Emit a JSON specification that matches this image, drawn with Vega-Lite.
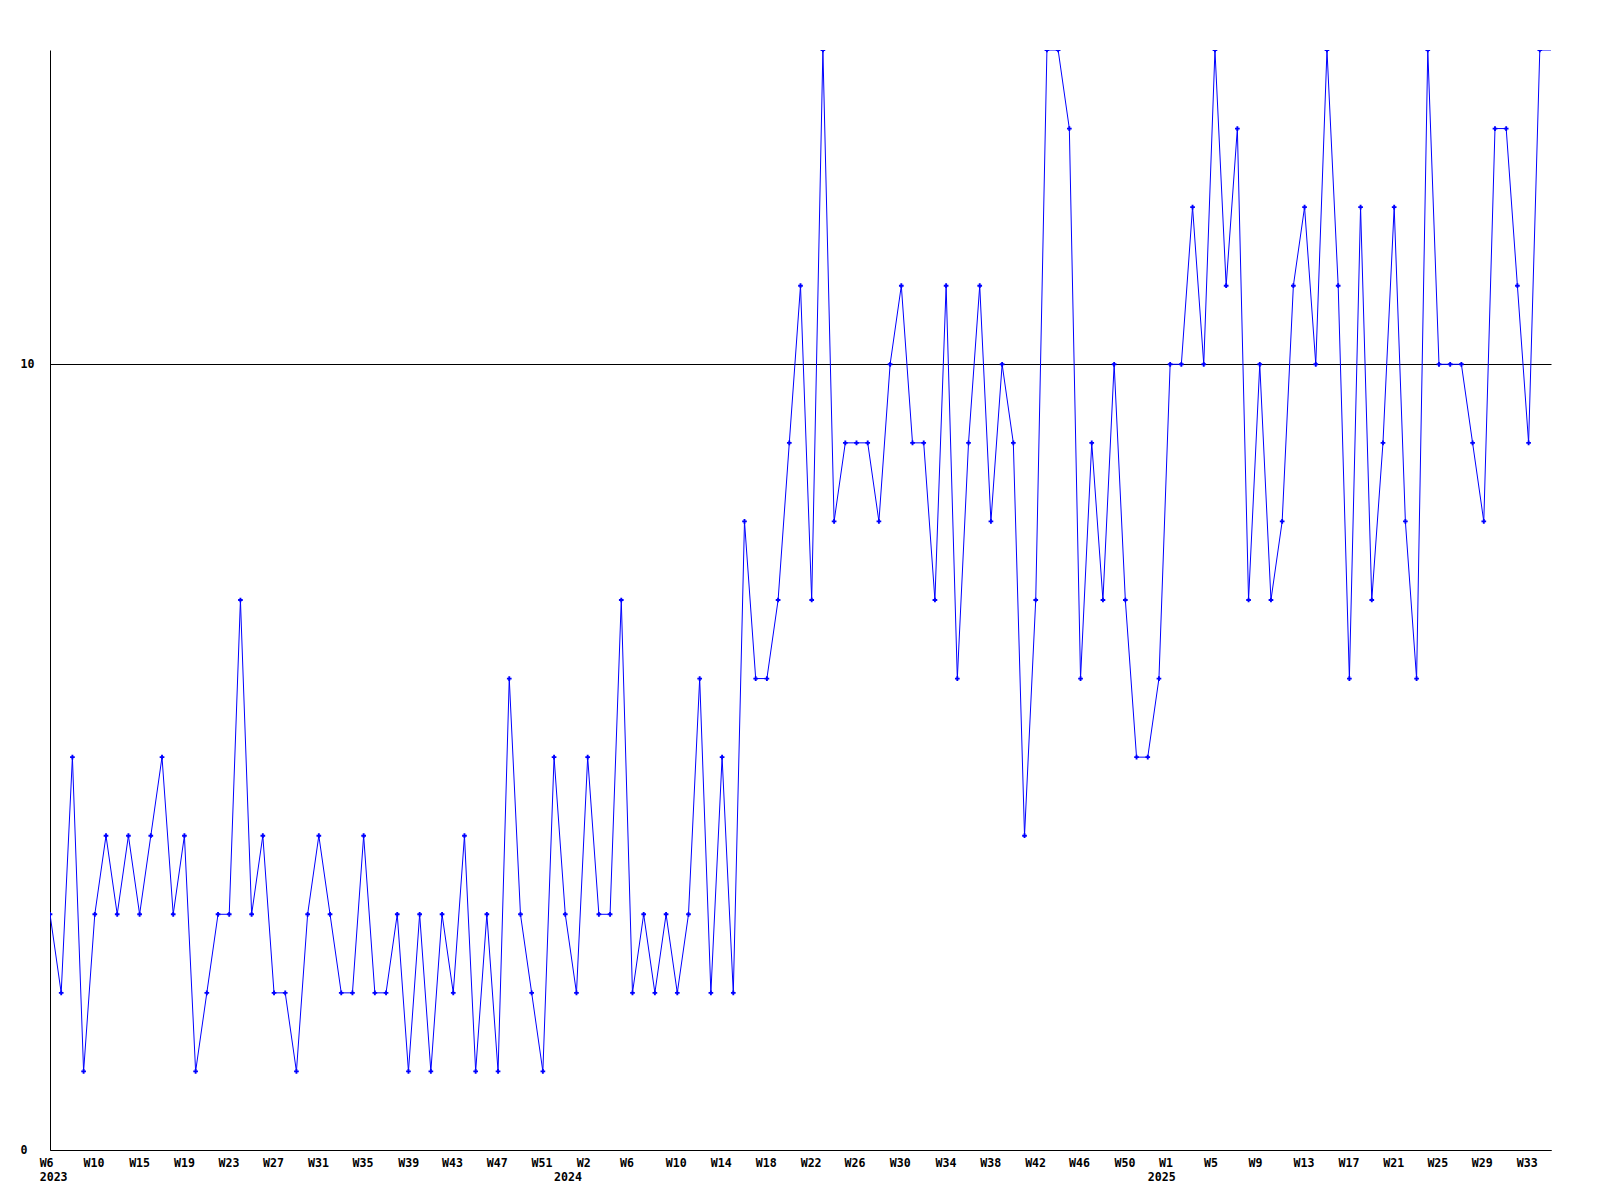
{
  "$schema": "https://vega.github.io/schema/vega-lite/v6.json",
  "width": 1501,
  "height": 1100,
  "autosize": {"type": "none"},
  "padding": {"left": 50, "top": 50, "right": 49, "bottom": 50},
  "background": "white",
  "config": {
    "view": {"stroke": null},
    "axis": {
      "labelFont": "DejaVu Sans Mono",
      "labelFontWeight": "bold",
      "labelFontSize": 11.6,
      "labelColor": "black",
      "domainColor": "black",
      "domainWidth": 1,
      "ticks": false,
      "tickSize": 0,
      "title": null,
      "labelOverlap": false,
      "labelFlush": false,
      "labelBound": false
    }
  },
  "data": {
    "values": [
      {"week": "2023-W06", "idx": 0, "count": 3},
      {"week": "2023-W07", "idx": 1, "count": 2},
      {"week": "2023-W08", "idx": 2, "count": 5},
      {"week": "2023-W09", "idx": 3, "count": 1},
      {"week": "2023-W10", "idx": 4, "count": 3},
      {"week": "2023-W11", "idx": 5, "count": 4},
      {"week": "2023-W12", "idx": 6, "count": 3},
      {"week": "2023-W13", "idx": 7, "count": 4},
      {"week": "2023-W14", "idx": 8, "count": 3},
      {"week": "2023-W15", "idx": 9, "count": 4},
      {"week": "2023-W16", "idx": 10, "count": 5},
      {"week": "2023-W17", "idx": 11, "count": 3},
      {"week": "2023-W18", "idx": 12, "count": 4},
      {"week": "2023-W19", "idx": 13, "count": 1},
      {"week": "2023-W20", "idx": 14, "count": 2},
      {"week": "2023-W21", "idx": 15, "count": 3},
      {"week": "2023-W22", "idx": 16, "count": 3},
      {"week": "2023-W23", "idx": 17, "count": 7},
      {"week": "2023-W24", "idx": 18, "count": 3},
      {"week": "2023-W25", "idx": 19, "count": 4},
      {"week": "2023-W26", "idx": 20, "count": 2},
      {"week": "2023-W27", "idx": 21, "count": 2},
      {"week": "2023-W28", "idx": 22, "count": 1},
      {"week": "2023-W29", "idx": 23, "count": 3},
      {"week": "2023-W30", "idx": 24, "count": 4},
      {"week": "2023-W31", "idx": 25, "count": 3},
      {"week": "2023-W32", "idx": 26, "count": 2},
      {"week": "2023-W33", "idx": 27, "count": 2},
      {"week": "2023-W34", "idx": 28, "count": 4},
      {"week": "2023-W35", "idx": 29, "count": 2},
      {"week": "2023-W36", "idx": 30, "count": 2},
      {"week": "2023-W37", "idx": 31, "count": 3},
      {"week": "2023-W38", "idx": 32, "count": 1},
      {"week": "2023-W39", "idx": 33, "count": 3},
      {"week": "2023-W40", "idx": 34, "count": 1},
      {"week": "2023-W41", "idx": 35, "count": 3},
      {"week": "2023-W42", "idx": 36, "count": 2},
      {"week": "2023-W43", "idx": 37, "count": 4},
      {"week": "2023-W44", "idx": 38, "count": 1},
      {"week": "2023-W45", "idx": 39, "count": 3},
      {"week": "2023-W46", "idx": 40, "count": 1},
      {"week": "2023-W47", "idx": 41, "count": 6},
      {"week": "2023-W48", "idx": 42, "count": 3},
      {"week": "2023-W49", "idx": 43, "count": 2},
      {"week": "2023-W50", "idx": 44, "count": 1},
      {"week": "2023-W51", "idx": 45, "count": 5},
      {"week": "2023-W52", "idx": 46, "count": 3},
      {"week": "2024-W01", "idx": 47, "count": 2},
      {"week": "2024-W02", "idx": 48, "count": 5},
      {"week": "2024-W03", "idx": 49, "count": 3},
      {"week": "2024-W04", "idx": 50, "count": 3},
      {"week": "2024-W05", "idx": 51, "count": 7},
      {"week": "2024-W06", "idx": 52, "count": 2},
      {"week": "2024-W07", "idx": 53, "count": 3},
      {"week": "2024-W08", "idx": 54, "count": 2},
      {"week": "2024-W09", "idx": 55, "count": 3},
      {"week": "2024-W10", "idx": 56, "count": 2},
      {"week": "2024-W11", "idx": 57, "count": 3},
      {"week": "2024-W12", "idx": 58, "count": 6},
      {"week": "2024-W13", "idx": 59, "count": 2},
      {"week": "2024-W14", "idx": 60, "count": 5},
      {"week": "2024-W15", "idx": 61, "count": 2},
      {"week": "2024-W16", "idx": 62, "count": 8},
      {"week": "2024-W17", "idx": 63, "count": 6},
      {"week": "2024-W18", "idx": 64, "count": 6},
      {"week": "2024-W19", "idx": 65, "count": 7},
      {"week": "2024-W20", "idx": 66, "count": 9},
      {"week": "2024-W21", "idx": 67, "count": 11},
      {"week": "2024-W22", "idx": 68, "count": 7},
      {"week": "2024-W23", "idx": 69, "count": 14},
      {"week": "2024-W24", "idx": 70, "count": 8},
      {"week": "2024-W25", "idx": 71, "count": 9},
      {"week": "2024-W26", "idx": 72, "count": 9},
      {"week": "2024-W27", "idx": 73, "count": 9},
      {"week": "2024-W28", "idx": 74, "count": 8},
      {"week": "2024-W29", "idx": 75, "count": 10},
      {"week": "2024-W30", "idx": 76, "count": 11},
      {"week": "2024-W31", "idx": 77, "count": 9},
      {"week": "2024-W32", "idx": 78, "count": 9},
      {"week": "2024-W33", "idx": 79, "count": 7},
      {"week": "2024-W34", "idx": 80, "count": 11},
      {"week": "2024-W35", "idx": 81, "count": 6},
      {"week": "2024-W36", "idx": 82, "count": 9},
      {"week": "2024-W37", "idx": 83, "count": 11},
      {"week": "2024-W38", "idx": 84, "count": 8},
      {"week": "2024-W39", "idx": 85, "count": 10},
      {"week": "2024-W40", "idx": 86, "count": 9},
      {"week": "2024-W41", "idx": 87, "count": 4},
      {"week": "2024-W42", "idx": 88, "count": 7},
      {"week": "2024-W43", "idx": 89, "count": 14},
      {"week": "2024-W44", "idx": 90, "count": 14},
      {"week": "2024-W45", "idx": 91, "count": 13},
      {"week": "2024-W46", "idx": 92, "count": 6},
      {"week": "2024-W47", "idx": 93, "count": 9},
      {"week": "2024-W48", "idx": 94, "count": 7},
      {"week": "2024-W49", "idx": 95, "count": 10},
      {"week": "2024-W50", "idx": 96, "count": 7},
      {"week": "2024-W51", "idx": 97, "count": 5},
      {"week": "2024-W52", "idx": 98, "count": 5},
      {"week": "2025-W01", "idx": 99, "count": 6},
      {"week": "2025-W02", "idx": 100, "count": 10},
      {"week": "2025-W03", "idx": 101, "count": 10},
      {"week": "2025-W04", "idx": 102, "count": 12},
      {"week": "2025-W05", "idx": 103, "count": 10},
      {"week": "2025-W06", "idx": 104, "count": 14},
      {"week": "2025-W07", "idx": 105, "count": 11},
      {"week": "2025-W08", "idx": 106, "count": 13},
      {"week": "2025-W09", "idx": 107, "count": 7},
      {"week": "2025-W10", "idx": 108, "count": 10},
      {"week": "2025-W11", "idx": 109, "count": 7},
      {"week": "2025-W12", "idx": 110, "count": 8},
      {"week": "2025-W13", "idx": 111, "count": 11},
      {"week": "2025-W14", "idx": 112, "count": 12},
      {"week": "2025-W15", "idx": 113, "count": 10},
      {"week": "2025-W16", "idx": 114, "count": 14},
      {"week": "2025-W17", "idx": 115, "count": 11},
      {"week": "2025-W18", "idx": 116, "count": 6},
      {"week": "2025-W19", "idx": 117, "count": 12},
      {"week": "2025-W20", "idx": 118, "count": 7},
      {"week": "2025-W21", "idx": 119, "count": 9},
      {"week": "2025-W22", "idx": 120, "count": 12},
      {"week": "2025-W23", "idx": 121, "count": 8},
      {"week": "2025-W24", "idx": 122, "count": 6},
      {"week": "2025-W25", "idx": 123, "count": 14},
      {"week": "2025-W26", "idx": 124, "count": 10},
      {"week": "2025-W27", "idx": 125, "count": 10},
      {"week": "2025-W28", "idx": 126, "count": 10},
      {"week": "2025-W29", "idx": 127, "count": 9},
      {"week": "2025-W30", "idx": 128, "count": 8},
      {"week": "2025-W31", "idx": 129, "count": 13},
      {"week": "2025-W32", "idx": 130, "count": 13},
      {"week": "2025-W33", "idx": 131, "count": 11},
      {"week": "2025-W34", "idx": 132, "count": 9},
      {"week": "2025-W35", "idx": 133, "count": 14},
      {"week": "2025-W36", "idx": 134, "count": 14}
    ]
  },
  "resolve": {"axis": {"x": "independent"}},
  "layer": [
    {
      "mark": {"type": "line", "color": "#0000ff", "strokeWidth": 1, "clip": true, "interpolate": "linear"},
      "encoding": {
        "x": {
          "field": "idx",
          "type": "quantitative",
          "scale": {"domain": [0, 134], "nice": false, "zero": false},
          "axis": {
            "orient": "bottom",
            "values": [0.19, 4.42, 8.49, 12.5, 16.47, 20.45, 24.46, 28.43, 32.51, 36.42, 40.42, 44.41, 48.15, 52.0, 56.39, 60.42, 64.43, 68.44, 72.36, 76.4, 80.47, 84.47, 88.48, 92.39, 96.45, 100.12, 104.14, 108.1, 112.43, 116.45, 120.46, 124.39, 128.36, 132.37],
            "labelExpr": "['W6','W10','W15','W19','W23','W27','W31','W35','W39','W43','W47','W51','W2','W6','W10','W14','W18','W22','W26','W30','W34','W38','W42','W46','W50','W1','W5','W9','W13','W17','W21','W25','W29','W33'][indexof([0.19, 4.42, 8.49, 12.5, 16.47, 20.45, 24.46, 28.43, 32.51, 36.42, 40.42, 44.41, 48.15, 52.0, 56.39, 60.42, 64.43, 68.44, 72.36, 76.4, 80.47, 84.47, 88.48, 92.39, 96.45, 100.12, 104.14, 108.1, 112.43, 116.45, 120.46, 124.39, 128.36, 132.37], datum.value)]",
            "labelAlign": "center",
            "labelBaseline": "top",
            "labelPadding": 7,
            "labelOffset": -6,
            "grid": false,
            "domain": true
          }
        },
        "y": {
          "field": "count",
          "type": "quantitative",
          "scale": {"domain": [0, 14], "nice": false, "zero": true},
          "axis": {
            "values": [0, 10],
            "format": "d",
            "grid": true,
            "gridColor": "black",
            "gridOpacity": 1,
            "gridWidth": 1,
            "labelAlign": "left",
            "labelBaseline": "middle",
            "labelPadding": 30,
            "domain": true
          }
        }
      }
    },
    {
      "transform": [{"filter": "datum.idx < 134"}],
      "mark": {"type": "point", "shape": "cross", "size": 22, "filled": true, "color": "#0000ff", "opacity": 1, "clip": true},
      "encoding": {
        "x": {
          "field": "idx",
          "type": "quantitative",
          "axis": {
            "orient": "bottom",
            "values": [0.28, 46.2, 99.21],
            "labelExpr": "['2023','2024','2025'][indexof([0.28, 46.2, 99.21], datum.value)]",
            "labelAlign": "center",
            "labelBaseline": "top",
            "labelPadding": 21,
            "grid": false,
            "domain": false
          }
        },
        "y": {"field": "count", "type": "quantitative"}
      }
    }
  ]
}
